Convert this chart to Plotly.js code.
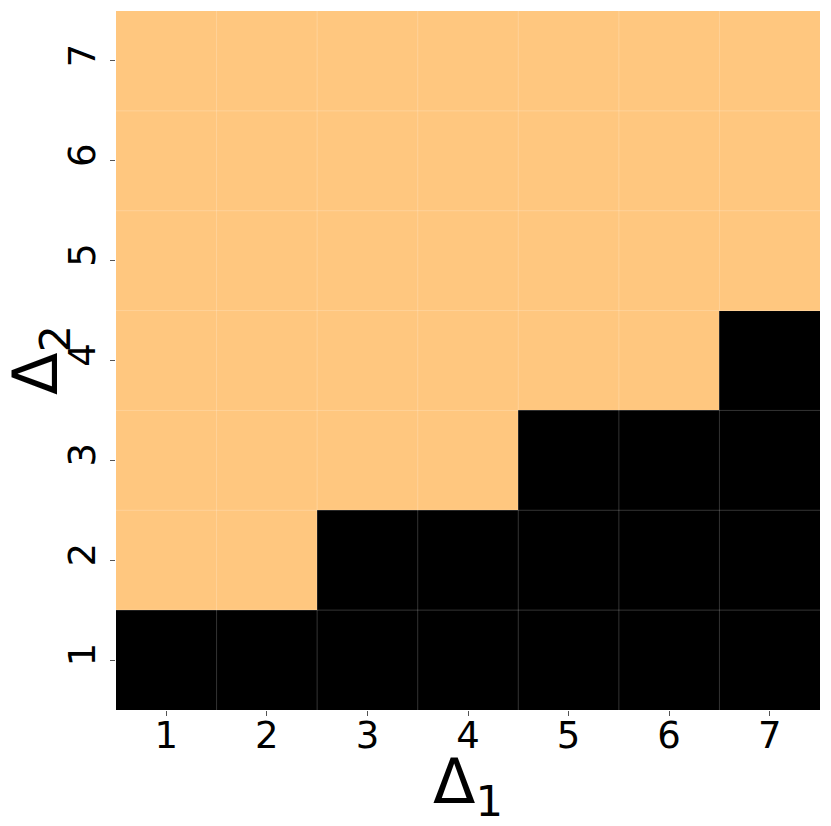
<!DOCTYPE html>
<html>
<head>
<meta charset="utf-8">
<script src="https://cdn.plot.ly/plotly-3.0.1.min.js"></script>
<style>
  body { margin: 0; background: white; }
  #chart { width: 831px; height: 826px; }
</style>
</head>
<body>
<div id="chart"></div>
<script>
// delta values on each axis
var delta1 = [1, 2, 3, 4, 5, 6, 7];
var delta2 = [1, 2, 3, 4, 5, 6, 7];

// one row per delta2 value (bottom to top), 0 = black, 1 = orange
var zRows = [
    [0, 0, 0, 0, 0, 0, 0],
    [1, 1, 0, 0, 0, 0, 0],
    [1, 1, 1, 1, 0, 0, 0],
    [1, 1, 1, 1, 1, 1, 0],
    [1, 1, 1, 1, 1, 1, 1],
    [1, 1, 1, 1, 1, 1, 1],
    [1, 1, 1, 1, 1, 1, 1]
];

var data = [{
    type: 'heatmap',
    x: delta1,
    y: delta2,
    z: zRows,
    zmin: 0,
    zmax: 1,
    colorscale: [[0, '#000000'], [1, '#FFC77F']],
    showscale: false
}];

// faint grid at cell borders, drawn over the cells
var shapes = [];
for (var i = 0; i < delta1.length - 1; i++) {
    shapes.push({
        type: 'line', layer: 'above', xref: 'x', yref: 'paper',
        x0: delta1[i] + 0.5, x1: delta1[i] + 0.5, y0: 0, y1: 1,
        line: { color: 'rgba(255,255,255,0.2)', width: 1 }
    });
}
for (var j = 0; j < delta2.length - 1; j++) {
    shapes.push({
        type: 'line', layer: 'above', xref: 'paper', yref: 'y',
        x0: 0, x1: 1, y0: delta2[j] + 0.5, y1: delta2[j] + 0.5,
        line: { color: 'rgba(255,255,255,0.2)', width: 1 }
    });
}

var layout = {
    width: 831,
    height: 826,
    margin: { l: 116, r: 11, t: 11, b: 116 },
    paper_bgcolor: 'white',
    plot_bgcolor: 'white',
    font: { family: 'DejaVu Sans', color: '#000000', size: 37 },
    shapes: shapes,
    // y title placed by hand so the subscript clears the "4" tick label
    annotations: [{
        text: 'Δ<sub>2</sub>',
        textangle: -90,
        xref: 'paper', yref: 'paper',
        x: 0, y: 0.5,
        xanchor: 'left', yanchor: 'middle',
        xshift: -119,
        showarrow: false,
        font: { size: 62 }
    }],
    xaxis: {
        range: [0.5, 7.5],
        tickvals: delta1,
        ticks: 'outside',
        ticklen: 5,
        tickcolor: '#555555',
        ticklabelstandoff: -12,
        showgrid: false,
        zeroline: false,
        showline: false,
        tickfont: { size: 37 },
        title: { text: 'Δ<sub>1</sub>', font: { size: 62 }, standoff: 4 }
    },
    yaxis: {
        range: [0.5, 7.5],
        tickvals: delta2,
        tickangle: -90,
        ticks: 'outside',
        ticklen: 5,
        tickcolor: '#555555',
        showgrid: false,
        zeroline: false,
        showline: false,
        tickfont: { size: 37 }
    }
};

var config = { responsive: false, displayModeBar: false, staticPlot: true };

Plotly.newPlot('chart', data, layout, config);
</script>
</body>
</html>
